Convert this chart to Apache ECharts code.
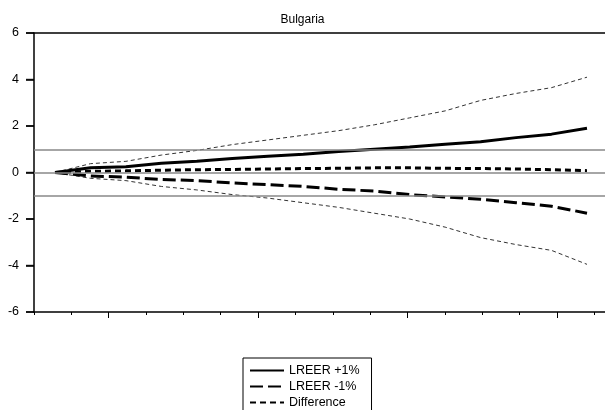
<!DOCTYPE html>
<html>
<head>
<meta charset="utf-8">
<script src="https://cdn.jsdelivr.net/npm/echarts@6/dist/echarts.min.js"></script>
<style>html,body{margin:0;padding:0;background:#fff}#c{width:605px;height:410px}</style>
</head>
<body>
<div id="c"></div>
<script>
const periods = ["1","2","3","4","5","6","7","8","9","10","11","12","13","14","15","16"];
const lreerPlus = [0, 0.2, 0.25, 0.4, 0.48, 0.6, 0.7, 0.78, 0.9, 1.0, 1.1, 1.22, 1.32, 1.5, 1.65, 1.9];
const lreerMinus = [0, -0.15, -0.2, -0.3, -0.35, -0.45, -0.52, -0.6, -0.72, -0.8, -0.95, -1.05, -1.15, -1.3, -1.45, -1.75];
const difference = [0, 0.05, 0.07, 0.1, 0.12, 0.13, 0.15, 0.17, 0.18, 0.2, 0.2, 0.18, 0.17, 0.15, 0.12, 0.08];
const upperBand = [0, 0.38, 0.48, 0.75, 0.95, 1.2, 1.4, 1.6, 1.8, 2.05, 2.35, 2.65, 3.1, 3.4, 3.65, 4.1];
const lowerBand = [0, -0.25, -0.35, -0.6, -0.75, -0.95, -1.1, -1.3, -1.5, -1.75, -2.0, -2.35, -2.8, -3.1, -3.35, -3.95];
const yTicks = [-6, -4, -2, 0, 2, 4, 6];
const refLines = [1, 0, -1];
const axisTickCount = 15.29;
const longTicks = [2, 6, 10, 14];

const FONT = "Liberation Sans";
const chart = echarts.init(document.getElementById('c'), null, {renderer: 'canvas'});
chart.setOption({
  animation: false,
  backgroundColor: '#fff',
  title: {
    text: 'Bulgaria', left: 'center', top: 9,
    textStyle: {fontFamily: FONT, fontSize: 12, fontWeight: 'normal', color: '#000'}
  },
  legend: {
    left: 243, top: 358, orient: 'vertical', height: 70,
    itemWidth: 34, itemHeight: 12, itemGap: 3,
    borderColor: '#000', borderWidth: 1, padding: [6, 12, 4, 6],
    itemStyle: {opacity: 0},
    data: ['LREER +1%', 'LREER -1%', 'Difference'],
    textStyle: {fontFamily: FONT, fontSize: 12.5, color: '#000'}
  },
  grid: [
    {left: 34, right: 0, top: 33, height: 279},
    {left: 55, right: 18, top: 33, height: 279}
  ],
  xAxis: [
    {gridIndex: 0, type: 'value', min: 0, max: axisTickCount, interval: 1, position: 'bottom',
     axisLine: {show: true, onZero: false, lineStyle: {color: '#000', width: 1.5}},
     axisTick: {show: true, length: 3, lineStyle: {color: '#000'}},
     axisLabel: {show: false}, splitLine: {show: false}},
    {gridIndex: 0, type: 'value', min: 0, max: axisTickCount, interval: 1, position: 'bottom',
     axisLine: {show: false, onZero: false},
     axisTick: {show: true, length: 6, customValues: longTicks, lineStyle: {color: '#000'}},
     axisLabel: {show: false}, splitLine: {show: false}},
    {gridIndex: 1, type: 'category', data: periods, boundaryGap: false, show: false},
    {gridIndex: 0, type: 'value', min: 0, max: axisTickCount, position: 'top',
     axisLine: {show: true, onZero: false, lineStyle: {color: '#000', width: 1.5}},
     axisTick: {show: false}, axisLabel: {show: false}, splitLine: {show: false}}
  ],
  yAxis: [
    {gridIndex: 0, type: 'value', min: -6, max: 6, interval: 2, position: 'left',
     axisLine: {show: true, onZero: false, lineStyle: {color: '#000', width: 1.5}},
     axisTick: {show: true, length: 8, customValues: yTicks, lineStyle: {color: '#000', width: 1.5}},
     axisLabel: {margin: 15, fontFamily: FONT, fontSize: 12.5, color: '#000', customValues: yTicks},
     splitLine: {show: false}},
    {gridIndex: 1, type: 'value', min: -6, max: 6, show: false, splitLine: {show: false}}
  ],
  series: [
    {type: 'line', xAxisIndex: 0, yAxisIndex: 0, data: [], silent: true,
     markLine: {symbol: 'none', silent: true, label: {show: false},
       lineStyle: {color: '#888', width: 1.5, type: 'solid'},
       data: refLines.map(v => ({yAxis: v}))}},
    {type: 'scatter', xAxisIndex: 0, yAxisIndex: 0, silent: true, clip: false,
     data: yTicks.map(v => [0, v]),
     symbol: 'rect', symbolSize: [8, 1.5], symbolOffset: [-4, 0],
     itemStyle: {color: '#000'}},
    {name: 'Upper band', type: 'line', xAxisIndex: 2, yAxisIndex: 1, data: upperBand,
     symbol: 'none', lineStyle: {color: '#333', width: 1, type: [4, 3]}},
    {name: 'Lower band', type: 'line', xAxisIndex: 2, yAxisIndex: 1, data: lowerBand,
     symbol: 'none', lineStyle: {color: '#333', width: 1, type: [4, 3]}},
    {name: 'Difference', type: 'line', xAxisIndex: 2, yAxisIndex: 1, data: difference,
     symbol: 'none', itemStyle: {color: '#000'}, lineStyle: {color: '#000', width: 3, type: [6, 4]}},
    {name: 'LREER -1%', type: 'line', xAxisIndex: 2, yAxisIndex: 1, data: lreerMinus,
     symbol: 'none', itemStyle: {color: '#000'}, lineStyle: {color: '#000', width: 3, type: [13, 5]}},
    {name: 'LREER +1%', type: 'line', xAxisIndex: 2, yAxisIndex: 1, data: lreerPlus,
     symbol: 'none', itemStyle: {color: '#000'}, lineStyle: {color: '#000', width: 3}}
  ]
});
</script>
</body>
</html>
